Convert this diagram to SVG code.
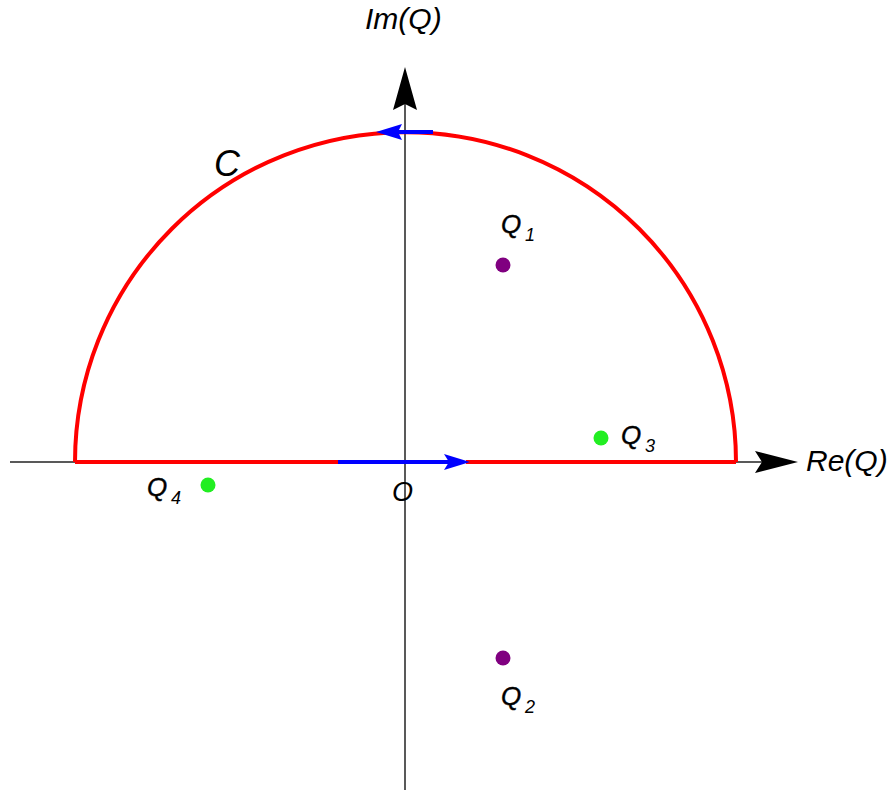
<svg xmlns="http://www.w3.org/2000/svg" width="891" height="794" viewBox="0 0 891 794">
<style>
.ax{stroke:#222;stroke-width:1.5;fill:none}
.red{stroke:#ff0000;stroke-width:4;fill:none}
.blue{stroke:#0000ff;stroke-width:4;fill:none}
.t{font-family:"Liberation Sans",Arial,sans-serif;font-style:italic;fill:#000}
.q{font-family:"Liberation Sans",Arial,sans-serif;font-style:italic;font-size:26px;fill:#000;stroke:#000;stroke-width:0.4}
.sub{font-family:"Liberation Sans",Arial,sans-serif;font-style:italic;font-size:18px;fill:#000}
</style>
<rect width="891" height="794" fill="#fff"/>
<g id="connectors">
<path class="ax" d="M10,462 H770"/>
<path class="ax" d="M405,790 V95"/>
<path d="M798,462 L755,451 L762,462 L755,473 Z" fill="#000"/>
<path d="M405,67 L393,110 L405,104 L417,110 Z" fill="#000"/>
<path class="red" d="M75,462 A330.5,330 0 0 1 736,462"/>
<path class="red" d="M75,462 H340 M466,462 H736"/>
<path class="blue" d="M338,462 H450"/>
<path d="M470,462 L444,454 L449,462 L444,470 Z" fill="#0000ff"/>
<path class="blue" d="M395,132 H433"/>
<path d="M376,132 L402,124 L398,132 L402,140 Z" fill="#0000ff"/>
</g>
<g id="labels">
<text class="t" x="365" y="29" font-size="30">Im(Q)</text>
<text class="t" x="806" y="471" font-size="30">Re(Q)</text>
<text class="t" x="392" y="501" font-size="27">O</text>
<text class="t" x="214" y="176" font-size="36">C</text>
</g>
<g id="Q1"><circle cx="503" cy="265" r="7.5" fill="#800080"/><text class="q" x="501" y="233">Q</text><text class="sub" x="525" y="241">1</text></g>
<g id="Q2"><circle cx="503" cy="658" r="7.5" fill="#800080"/><text class="q" x="501" y="705">Q</text><text class="sub" x="525" y="713">2</text></g>
<g id="Q3"><circle cx="601" cy="438" r="7.5" fill="#22ee22"/><text class="q" x="621" y="444">Q</text><text class="sub" x="645" y="452">3</text></g>
<g id="Q4"><circle cx="208" cy="485" r="7.5" fill="#22ee22"/><text class="q" x="147" y="496">Q</text><text class="sub" x="171" y="504">4</text></g>
</svg>
